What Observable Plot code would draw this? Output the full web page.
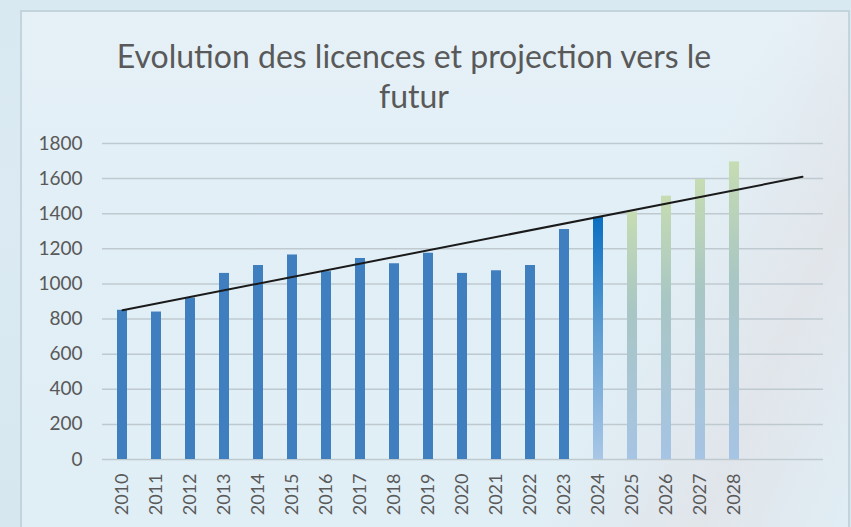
<!DOCTYPE html>
<html>
<head>
<meta charset="utf-8">
<script src="https://cdn.jsdelivr.net/npm/d3@7"></script>
<script src="https://cdn.jsdelivr.net/npm/@observablehq/plot@0.6"></script>
<style>
html, body { margin: 0; padding: 0; width: 851px; height: 527px; overflow: hidden; }
body {
  position: relative;
  background: linear-gradient(180deg, #d9e9f1 0%, #dcebf3 40%, #d6e7ef 100%);
  font-family: Lato, "Open Sans", sans-serif;
}
#frame {
  position: absolute; left: 20px; top: 10px; width: 826px; height: 540px;
  border: 2px solid #c4d4dc;
  background:
    linear-gradient(115deg, rgba(255,255,255,0) 70%, rgba(225,222,226,0.55) 85%, rgba(255,255,255,0) 100%),
    linear-gradient(180deg, #e6f1f7 0%, #e2eff6 30%, #e0eef5 100%);
}
#title {
  position: absolute; left: 0; top: 0; width: 828px; height: 120px;
  text-align: center; color: #595959; font-size: 32px; line-height: 40px;
  padding-top: 36px; box-sizing: border-box;
}
#chart { position: absolute; left: 0; top: 120px; }
</style>
</head>
<body>
<div id="frame"></div>
<div id="title"><div>Evolution des licences et projection vers le</div><div>futur</div></div>
<div id="chart"></div>
<script>
// Data
const years = [2010, 2011, 2012, 2013, 2014, 2015, 2016, 2017, 2018, 2019, 2020, 2021, 2022, 2023, 2024, 2025, 2026, 2027, 2028];
const licences = [850, 840, 920, 1060, 1105, 1165, 1070, 1145, 1115, 1175, 1060, 1075, 1105, 1310, 1380, 1410, 1500, 1595, 1695];
// kind: actual, current year, projection
const kinds = ["reel","reel","reel","reel","reel","reel","reel","reel","reel","reel","reel","reel","reel","reel","courant","projection","projection","projection","projection"];
const axisYears = [2010, 2011, 2012, 2013, 2014, 2015, 2016, 2017, 2018, 2019, 2020, 2021, 2022, 2023, 2024, 2025, 2026, 2027, 2028, 2029, 2030];
const yTicks = [0, 200, 400, 600, 800, 1000, 1200, 1400, 1600, 1800];
const trendYears = [2010, 2030];
const trendValues = [850, 1610];

const bars = years.map((y, i) => ({year: y, value: licences[i], kind: kinds[i]}));
const trend = trendYears.map((y, i) => ({year: y, value: trendValues[i]}));
const fills = {reel: "#3f7fc0", courant: "url(#gradCourant)", projection: "url(#gradProj)"};

const defs = () => {
  const d = d3.create("svg:defs");
  const g1 = d.append("linearGradient").attr("id", "gradCourant").attr("x1", 0).attr("y1", 0).attr("x2", 0).attr("y2", 1);
  g1.append("stop").attr("offset", "0%").attr("stop-color", "#0a6fc2");
  g1.append("stop").attr("offset", "45%").attr("stop-color", "#5a9bd2");
  g1.append("stop").attr("offset", "100%").attr("stop-color", "#a9c7e6");
  const g2 = d.append("linearGradient").attr("id", "gradProj").attr("x1", 0).attr("y1", 0).attr("x2", 0).attr("y2", 1);
  g2.append("stop").attr("offset", "0%").attr("stop-color", "#c6dcb2");
  g2.append("stop").attr("offset", "40%").attr("stop-color", "#a8c6c4");
  g2.append("stop").attr("offset", "100%").attr("stop-color", "#a6c4e4");
  return d.node();
};

const chart = Plot.plot({
  width: 851,
  height: 407,
  marginLeft: 102,
  marginRight: 28,
  marginTop: 23,
  marginBottom: 68,
  style: {background: "transparent", fontFamily: "Lato, 'Open Sans', sans-serif", color: "#595959"},
  x: {type: "band", domain: axisYears, paddingInner: 0.70, paddingOuter: 0.35, label: null},
  y: {domain: [0, 1800], label: null},
  marks: [
    defs,
    Plot.gridY(yTicks, {stroke: "#bfcad0", strokeOpacity: 1, strokeWidth: 1.5}),
    Plot.barY(bars, {x: "year", y: "value", fill: d => fills[d.kind]}),
    Plot.line(trend, {x: "year", y: "value", stroke: "#1a1a1a", strokeWidth: 2}),
    Plot.axisY({ticks: yTicks, tickSize: 0, tickPadding: 20, fontSize: 19, fill: "#595959", tickFormat: d => String(d)}),
    Plot.axisX({ticks: years, tickSize: 0, tickPadding: 14, tickRotate: -90, fontSize: 18, fill: "#595959", tickFormat: d => String(d)})
  ]
});
document.getElementById("chart").appendChild(chart);
</script>
</body>
</html>
